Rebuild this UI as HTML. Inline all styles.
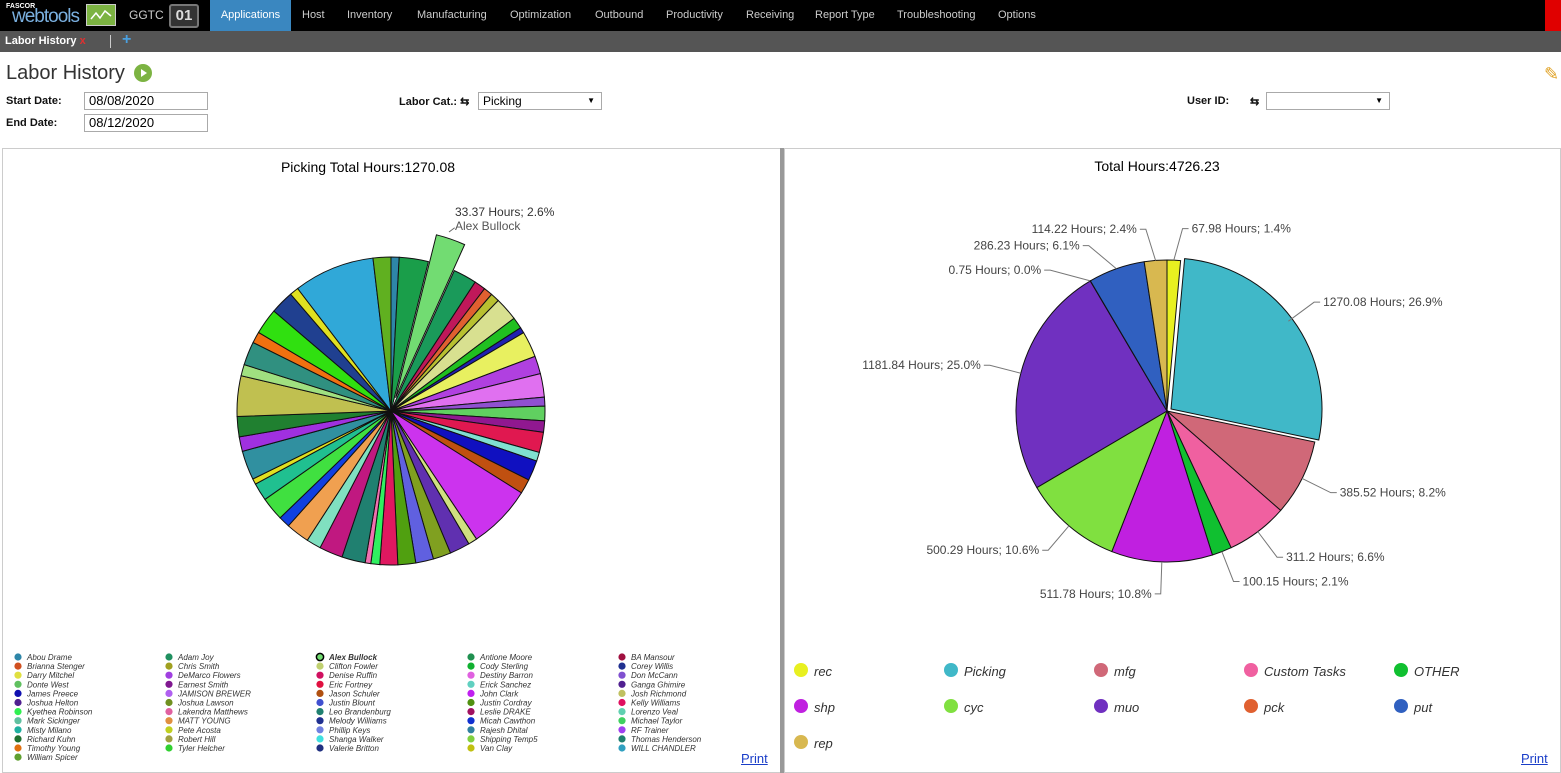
<!DOCTYPE html>
<html><head><meta charset="utf-8">
<style>
*{box-sizing:border-box}
body{margin:0;width:1561px;height:773px;overflow:hidden;background:#fff;font-family:"Liberation Sans",sans-serif;position:relative}
.abs{position:absolute}
#nav{left:0;top:0;width:1561px;height:31px;background:#000}
.nav-item{position:absolute;top:0;height:31px;line-height:31px;color:#ccc;font-size:11px}
#tabs{left:0;top:31px;width:1561px;height:21px;background:#555}
.lbl{font-size:11px;font-weight:bold;color:#111}
.inp{border:1px solid #aaa;height:18px;font-size:13px;padding-left:4px;line-height:16px;background:#fff}
.panel{border:1px solid #ccc}
.ttl{font-size:14px;color:#222;text-anchor:middle}
</style></head><body>
<div id="nav" class="abs">
  <div class="abs" style="left:6px;top:3px;color:#fff;font-size:7px;font-weight:bold">FASCOR</div>
  <div class="abs" style="left:12px;top:6px;color:#7ab0e0;font-size:19px;letter-spacing:-1px">webtools</div>
  <div class="abs" style="left:86px;top:4px;width:30px;height:22px;background:#7cb342;border:1px solid #ccc"><svg width="28" height="20"><polyline points="4,14 9,8 13,13 18,6 24,11" fill="none" stroke="#fff" stroke-width="1.5"/></svg></div>
  <div class="nav-item" style="left:129px;font-size:12px">GGTC</div>
  <div class="abs" style="left:169px;top:4px;width:30px;height:24px;background:#333;border:2px solid #777;border-radius:3px;color:#ddd;font-weight:bold;font-size:15px;text-align:center;line-height:20px">01</div>
  <div class="nav-item" style="left:210px;width:81px;background:#3a87c0;color:#fff;text-align:center">Applications</div>
  <div class="nav-item" style="left:302px">Host</div>
  <div class="nav-item" style="left:347px">Inventory</div>
  <div class="nav-item" style="left:417px">Manufacturing</div>
  <div class="nav-item" style="left:510px">Optimization</div>
  <div class="nav-item" style="left:595px">Outbound</div>
  <div class="nav-item" style="left:666px">Productivity</div>
  <div class="nav-item" style="left:746px">Receiving</div>
  <div class="nav-item" style="left:815px">Report Type</div>
  <div class="nav-item" style="left:897px">Troubleshooting</div>
  <div class="nav-item" style="left:998px">Options</div>
  <div class="abs" style="left:1545px;top:0;width:16px;height:31px;background:#e00000"></div>
</div>
<div id="tabs" class="abs">
  <div class="abs" style="left:5px;top:4px;color:#fff;font-size:11px;font-weight:bold">Labor History <span style="color:#e03030">x</span></div>
  <div class="abs" style="left:110px;top:4px;width:1px;height:13px;background:#ccc"></div>
  <div class="abs" style="left:122px;top:0px;color:#4aa0e0;font-size:16px;font-weight:bold">+</div>
</div>
<div class="abs" style="left:6px;top:62px;font-size:20px;color:#333">Labor History</div>
<div class="abs" style="left:134px;top:64px;width:18px;height:18px;border-radius:50%;background:#7cb342"><svg width="18" height="18"><polygon points="7,5 13,9 7,13" fill="#fff"/></svg></div>
<div class="abs" style="left:1544px;top:64px;font-size:18px;color:#e0a020">✎</div>
<div class="abs lbl" style="left:6px;top:95px">Start Date:</div>
<div class="abs inp" style="left:84px;top:92px;width:124px">08/08/2020</div>
<div class="abs lbl" style="left:6px;top:117px">End Date:</div>
<div class="abs inp" style="left:84px;top:114px;width:124px">08/12/2020</div>
<div class="abs lbl" style="left:399px;top:95px">Labor Cat.: ⇆</div>
<div class="abs inp" style="left:478px;top:92px;width:124px;font-size:12px">Picking<span style="position:absolute;right:6px;font-size:8px">▼</span></div>
<div class="abs lbl" style="left:1187px;top:95px">User ID:</div>
<div class="abs lbl" style="left:1250px;top:95px">⇆</div>
<div class="abs inp" style="left:1266px;top:92px;width:124px"><span style="position:absolute;right:6px;font-size:8px">▼</span></div>

<div class="abs panel" style="left:2px;top:148px;width:779px;height:625px"></div>
<div class="abs" style="left:780px;top:148px;width:4px;height:625px;background:#999"></div>
<div class="abs panel" style="left:784px;top:148px;width:777px;height:625px"></div>
<div class="abs" style="left:741px;top:751px;font-size:13px;color:#1a3ec8;text-decoration:underline">Print</div>
<div class="abs" style="left:1521px;top:751px;font-size:13px;color:#1a3ec8;text-decoration:underline">Print</div>

<svg id="chart" class="abs" style="left:0;top:0" width="1561" height="773"></svg>

<script>
// Left pie (Picking by user) - slice values in hours, clockwise from top
const leftValues=[10,36,33.37,29,14,11,11,29,14,7,32,22,29,11,18,14,25,11,25,18,79,11,25,22,22,22,22,11,7,29,29,18,29,14,29,22,7,36,18,25,50,14,29,14,32,29,11,100,22];
const leftColors=["#2e86a8","#1a9e4a","#72dc72","#1a9a5a","#c0185a","#e06030","#b8c030","#d8e090","#20c020","#2020b0","#e8f060","#b040e0","#e070f0","#9050d0","#60d060","#901890","#e01850","#80e0d0","#1010c0","#c05010","#cc33ee","#d0e080","#6030b0","#80a020","#6060e0","#50a010","#e01860","#30f060","#f070b0","#208070","#c01880","#80e0c0","#f0a050","#1040e0","#40e040","#20c090","#e0e020","#3090a0","#a030e0","#208030","#c0c050","#a0e080","#309080","#f07010","#30e010","#204090","#e0e020","#30a8d8","#60b020"];
const leftExploded=2;
const leftLabel=["33.37 Hours; 2.6%","Alex Bullock"];
// Right pie (Total by category)
const rightCats=["rec","Picking","mfg","Custom Tasks","OTHER","shp","cyc","muo","pck","put","rep"];
const rightValues=[67.98,1270.08,385.52,311.2,100.15,511.78,500.29,1181.84,0.75,286.23,114.22];
const rightPct=["1.4%","26.9%","8.2%","6.6%","2.1%","10.8%","10.6%","25.0%","0.0%","6.1%","2.4%"];
const rightColors=["#e8f020","#40b8c8","#d06878","#f060a0","#10c030","#c020e0","#80e040","#7030c0","#e06030","#3060c0","#d8b850"];
const legendOrder=["rec","Picking","mfg","Custom Tasks","OTHER","shp","cyc","muo","pck","put","rep"];
// Left legend
const names=["Abou Drame","Brianna Stenger","Darry Mitchel","Donte West","James Preece","Joshua Helton","Kyethea Robinson","Mark Sickinger","Misty Milano","Richard Kuhn","Timothy Young","William Spicer","Adam Joy","Chris Smith","DeMarco Flowers","Earnest Smith","JAMISON BREWER","Joshua Lawson","Lakendra Matthews","MATT YOUNG","Pete Acosta","Robert Hill","Tyler Helcher","Alex Bullock","Clifton Fowler","Denise Ruffin","Eric Fortney","Jason Schuler","Justin Blount","Leo Brandenburg","Melody Williams","Phillip Keys","Shanga Walker","Valerie Britton","Antione Moore","Cody Sterling","Destiny Barron","Erick Sanchez","John Clark","Justin Cordray","Leslie DRAKE","Micah Cawthon","Rajesh Dhital","Shipping Temp5","Van Clay","BA Mansour","Corey Willis","Don McCann","Ganga Ghimire","Josh Richmond","Kelly Williams","Lorenzo Veal","Michael Taylor","RF Trainer","Thomas Henderson","WILL CHANDLER"];
const nameColors=["#2e86a8","#d05020","#e0e040","#60c060","#1010b0","#502090","#30f050","#60c0a0","#20b0a0","#207030","#e07010","#60a030","#209060","#a0a020","#a040e0","#801890","#b060f0","#709020","#e060a0","#e09040","#c0d020","#a0a040","#30d030","#72dc72","#c0d070","#d01060","#e01040","#b05010","#4050d0","#208070","#203090","#7080e0","#40e0e0","#203080","#209050","#10b030","#e060e0","#60d0c0","#c020f0","#509010","#a01060","#1030d0","#3080a0","#80d040","#c0c010","#a01040","#203090","#8050d0","#502090","#c0c060","#e01060","#60d0b0","#40d060","#a040f0","#208070","#30a0c0"];

const svg=document.getElementById('chart');
const NS='http://www.w3.org/2000/svg';
function mk(t,a){const e=document.createElementNS(NS,t);for(const k in a)e.setAttribute(k,a[k]);svg.appendChild(e);return e;}
function pt(cx,cy,r,a){return [cx+r*Math.sin(a),cy-r*Math.cos(a)];}
function arc(cx,cy,r,a0,a1){const p0=pt(cx,cy,r,a0),p1=pt(cx,cy,r,a1);const lg=(a1-a0)>Math.PI?1:0;return `M${cx},${cy}L${p0[0]},${p0[1]}A${r},${r} 0 ${lg} 1 ${p1[0]},${p1[1]}Z`;}

let t=mk('text',{x:368,y:172,class:'ttl'});t.textContent='Picking Total Hours:1270.08';


t=mk('text',{x:1157,y:171,class:'ttl'});t.textContent='Total Hours:4726.23';



// left pie
(function(){
 const cx=391,cy=411,r=154;const sum=leftValues.reduce((a,b)=>a+b,0);
 let a=0;
 leftValues.forEach((v,i)=>{
  const a1=a+v/sum*2*Math.PI;let x=cx,y=cy,rr=r;
  if(i===leftExploded){const m=(a+a1)/2;x=cx+Math.sin(m)*14;y=cy-Math.cos(m)*14;rr=r+14;}
  const p=mk('path',{d:arc(x,y,rr,a,a1),fill:leftColors[i],stroke:'#111','stroke-width':1});
  
  
  if(i===leftExploded){const m=(a+a1)/2;const q=pt(cx,cy,r+40,m);
   const l1=mk('text',{x:455,y:216,'font-size':12,fill:'#333'});l1.textContent=leftLabel[0];
   
   
   const l2=mk('text',{x:455,y:230,'font-size':12,fill:'#555'});l2.textContent=leftLabel[1];
   
   
   mk('line',{x1:q[0],y1:q[1],x2:449,y2:232,stroke:'#666'});}
  a=a1;
 });
})();

// right pie
(function(){
 const cx=1167,cy=411,r=151;const sum=rightValues.reduce((a,b)=>a+b,0);
 let a=0;
 rightValues.forEach((v,i)=>{
  const a1=a+v/sum*2*Math.PI;const m=(a+a1)/2;
  let x=cx,y=cy;if(i===1){x+=4;y-=2;}
  const p=mk('path',{d:arc(x,y,r,a,a1),fill:rightColors[i],stroke:'#111','stroke-width':1});
  
  
  let lm=m;if(i===8)lm-=0.16;if(i===9)lm-=0.1;if(i===10)lm-=0.04;if(i===0)lm+=0.04;
  const p0=pt(cx,cy,r,m),p1=pt(cx,cy,r+32,lm);const right=Math.sin(lm)>=0;
  mk('polyline',{points:`${p0[0]},${p0[1]} ${p1[0]},${p1[1]} ${p1[0]+(right?6:-6)},${p1[1]}`,fill:'none',stroke:'#777'});
  const tx=mk('text',{x:p1[0]+(right?9:-9),y:p1[1]+4,'font-size':12,fill:'#444','text-anchor':right?'start':'end'});
  tx.textContent=rightValues[i]+' Hours; '+rightPct[i];
  
  
  a=a1;
 });
 legendOrder.forEach((c,i)=>{
  const col=i%5,row=Math.floor(i/5);const x=801+col*150,y=671+row*36;const k=rightCats.indexOf(c);
  const ci=mk('circle',{cx:x,cy:y-1,r:7,fill:rightColors[k]});
  
  
  const tx=mk('text',{x:x+13,y:y+5,'font-size':13,'font-style':'italic',fill:'#333'});tx.textContent=c;
  
  
 });
})();

// left legend
(function(){
 const cols=[12,11,11,11,11];let idx=0;
 cols.forEach((n,c)=>{
  for(let j=0;j<n;j++){const i=idx++;const x=18+c*151,y=658+j*9.1;
   const ci=mk('circle',{cx:x,cy:y-1,r:3.6,fill:nameColors[i],stroke:i===23?'#000':'none','stroke-width':1.5});
   
   
   const tx=mk('text',{x:x+9,y:y+2,'font-size':8,'font-style':'italic',fill:'#333','font-weight':i===23?'bold':'normal'});tx.textContent=names[i];
   
   
  }
 });
})();
</script>
</body></html>
